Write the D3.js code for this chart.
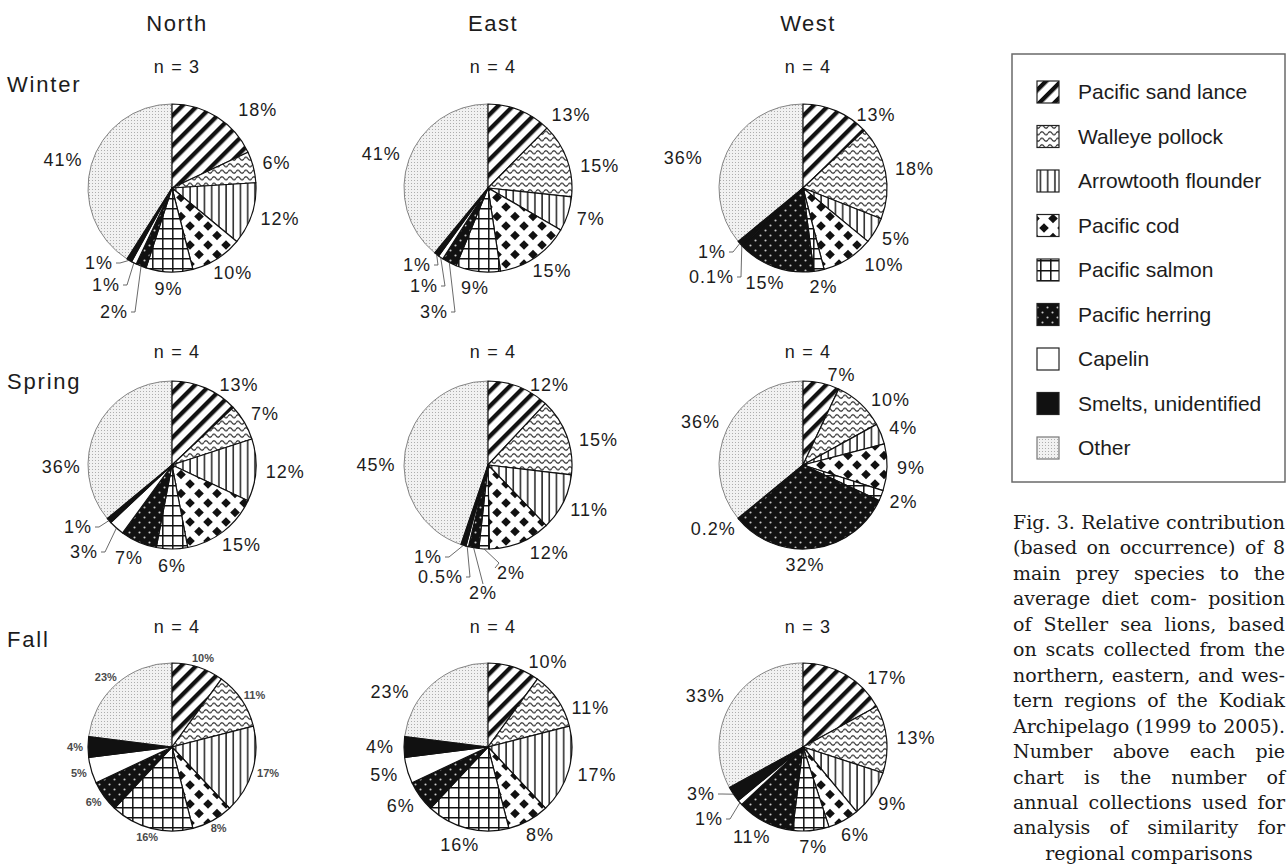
<!DOCTYPE html>
<html><head><meta charset="utf-8">
<script src="https://cdn.jsdelivr.net/npm/d3@7"></script>
<style>
body{margin:0;background:#fff}
svg{display:block}
</style></head><body>
<svg id="chart" width="1287" height="865"></svg>
<script>
// ---------------- DATA ----------------
const categories = ["Pacific sand lance","Walleye pollock","Arrowtooth flounder","Pacific cod","Pacific salmon","Pacific herring","Capelin","Smelts, unidentified","Other"];
const regions = ["North","East","West"];
const seasons = ["Winter","Spring","Fall"];
const sampleSizes = [[3,4,4],[4,4,4],[4,4,3]];
const winterNorth = [18,6,12,10,9,2,1,1,41];
const winterEast  = [13,15,7,15,9,3,1,1,41];
const winterWest  = [13,18,5,10,2,15,0.1,1,36];
const springNorth = [13,7,12,15,6,7,3,1,36];
const springEast  = [12,15,11,12,2,2,0.5,1,45];
const springWest  = [7,10,4,9,2,32,0.2,0,36];
const fallNorth   = [10,11,17,8,16,6,5,4,23];
const fallEast    = [10,11,17,8,16,6,5,4,23];
const fallWest    = [17,13,9,6,7,11,1,3,33];
const captionLines = [
  "Fig. 3. Relative contribution",
  "(based on occurrence) of 8",
  "main prey species to the",
  "average diet com- position",
  "of Steller sea lions, based",
  "on scats collected from the",
  "northern, eastern, and wes-",
  "tern regions of the Kodiak",
  "Archipelago (1999 to 2005).",
  "Number above each pie",
  "chart is the number of",
  "annual collections used for",
  "analysis of similarity for",
  "regional comparisons"
];

// ---------------- LAYOUT ----------------
const panels = [winterNorth, winterEast, winterWest, springNorth, springEast, springWest, fallNorth, fallEast, fallWest];
const colX = [172, 488, 803];
const rowY = [188, 465, 747];
const R = 84;
const SANS = "'Liberation Sans', Arial, Helvetica, sans-serif";
const SERIF = "'DejaVu Serif', serif";
const INK = "#1c1c1c";

// manual label nudges (annotation layout only)
const labelShift = [
  {0:[25,7]},
  {0:[40,20],1:[5,12]},
  {0:[28,19],3:[20,-8],8:[-17,13]},
  {0:[22,12],8:[-8,44]},
  {0:[20,13],1:[4,9],3:[18,-5],8:[0,16]},
  {0:[15,8],1:[10,8],5:[-13,0]},
  {},
  {0:[25,10],1:[9,17],8:[-23,20]},
  {0:[26,17]}
];
// labels placed with leader lines (relative to pie centre)
const leaderLabels = [
  {7:{x:-59,y:75,a:"end"},6:{x:-52,y:97,a:"end"},5:{x:-44,y:124,a:"end"}},
  {7:{x:-57,y:77,a:"end"},6:{x:-50,y:98,a:"end"},5:{x:-40,y:124,a:"end"}},
  {7:{x:-77,y:64,a:"end"},6:{x:-69,y:89,a:"end"}},
  {7:{x:-80,y:62,a:"end"},6:{x:-74,y:87,a:"end"}},
  {4:{x:9,y:108,a:"start"},5:{x:-5,y:128,a:"middle"},6:{x:-25,y:112,a:"end"},7:{x:-46,y:92,a:"end"}},
  {},
  {},
  {},
  {7:{x:-88,y:47,a:"end"},6:{x:-80,y:72,a:"end"}}
];

const svg = d3.select("#chart");
svg.append("rect").attr("width",1287).attr("height",865).attr("fill","#fff");

// ---------------- PATTERNS ----------------
const defs = svg.append("defs");
function pat(id, w, h, tr){
  const p = defs.append("pattern").attr("id",id).attr("patternUnits","userSpaceOnUse")
    .attr("width",w).attr("height",h);
  if (tr) p.attr("patternTransform",tr);
  return p;
}
let p;
p = pat("pSand",10.6,10.6,"rotate(45)");
p.append("rect").attr("width",10.6).attr("height",10.6).attr("fill","#fff");
p.append("rect").attr("width",4.3).attr("height",10.6).attr("fill","#111");

p = pat("pPollock",8,6.5);
p.append("rect").attr("width",8).attr("height",6.5).attr("fill","#fff");
p.append("path").attr("d","M0,3.25 Q2,0.2 4,3.25 T8,3.25").attr("fill","none").attr("stroke","#111").attr("stroke-width",1.05);

p = pat("pArrow",7.2,10);
p.append("rect").attr("width",7.2).attr("height",10).attr("fill","#fff");
p.append("rect").attr("x",3).attr("width",1.4).attr("height",10).attr("fill","#111");

p = pat("pCod",18,19);
p.append("rect").attr("width",18).attr("height",19).attr("fill","#fff");
[[0,0],[18,0],[0,19],[18,19],[9,9.5]].forEach(([cx,cy])=>{
  p.append("path").attr("d",`M${cx},${cy-4.8} L${cx+4.8},${cy} L${cx},${cy+4.8} L${cx-4.8},${cy} Z`).attr("fill","#111");
});

p = pat("pSalmon",10,10);
p.append("rect").attr("width",10).attr("height",10).attr("fill","#fff");
p.append("path").attr("d","M0.8,0 V10 M0,0.8 H10").attr("stroke","#111").attr("stroke-width",1.5);

p = pat("pHerring",10,10);
p.append("rect").attr("width",10).attr("height",10).attr("fill","#111");
p.append("circle").attr("cx",2.5).attr("cy",2.5).attr("r",1.05).attr("fill","#c8c8c8");
p.append("circle").attr("cx",7.5).attr("cy",7.5).attr("r",1.05).attr("fill","#c8c8c8");

p = pat("pOther",3,3);
p.append("rect").attr("width",3).attr("height",3).attr("fill","#f1f1f1");
p.append("rect").attr("x",1).attr("y",1).attr("width",1).attr("height",1).attr("fill","#adadad");

const fills = ["url(#pSand)","url(#pPollock)","url(#pArrow)","url(#pCod)","url(#pSalmon)","url(#pHerring)","#fff","#111","url(#pOther)"];

// ---------------- HEADERS ----------------
regions.forEach((r,i)=>{
  svg.append("text").attr("x",colX[i]+5).attr("y",31).attr("text-anchor","middle")
    .attr("font-family",SANS).attr("font-size",22).attr("letter-spacing",1.5).attr("fill",INK).text(r);
});
const seasonBase = [92,389,647];
seasons.forEach((s,i)=>{
  svg.append("text").attr("x",7).attr("y",seasonBase[i])
    .attr("font-family",SANS).attr("font-size",22).attr("letter-spacing",1.8).attr("fill",INK).text(s);
});
const nBase = [73,358,633];

// ---------------- PIES ----------------
const pie = d3.pie().sort(null).value(d=>d.v);
const arcGen = d3.arc().innerRadius(0).outerRadius(R);
const fmt = v => String(v) + "%";

panels.forEach((vals, pi) => {
  const row = Math.floor(pi/3), col = pi%3;
  const g = svg.append("g").attr("transform",`translate(${colX[col]},${rowY[row]})`);

  svg.append("text").attr("x",colX[col]+5).attr("y",nBase[row]).attr("text-anchor","middle")
    .attr("font-family",SANS).attr("font-size",18).attr("letter-spacing",1.2).attr("fill",INK)
    .text("n = " + sampleSizes[row][col]);

  const arcs = pie(vals.map((v,i)=>({v,i}))).filter(a=>a.data.v>0);
  const ordered = arcs.slice().sort((a,b)=> (b.data.i===8) - (a.data.i===8));
  g.selectAll("path.slice").data(ordered).join("path").attr("class","slice")
    .attr("d",arcGen).attr("fill",d=>fills[d.data.i])
    .attr("stroke",d=>d.data.i===8?"#777":"#111")
    .attr("stroke-width",d=>d.data.i===8?0.9:1.2)
    .attr("stroke-linejoin","round");

  const small = pi===6;
  const fs = small ? 11 : 18;
  const capH = small ? 8 : 13;
  const gap = small ? 5 : 10;
  arcs.forEach(a=>{
    const i = a.data.i;
    const m = (a.startAngle + a.endAngle)/2;
    const s = Math.sin(m), c = -Math.cos(m);
    const t = g.append("text").attr("font-family",SANS).attr("font-size",fs)
      .attr("letter-spacing",small?0:1).attr("fill",small?"#4a4a4a":INK)
      .attr("font-weight",small?"bold":"normal").attr("dy","0.35em").text(fmt(a.data.v));
    const ld = leaderLabels[pi][i];
    if (ld) {
      t.attr("x",ld.x).attr("y",ld.y).attr("text-anchor",ld.a);
      const ax = R*s, ay = R*c;
      let path;
      if (ld.a === "end") path = `M${ld.x+3},${ld.y} L${ld.x+7},${ld.y} L${ax},${ay}`;
      else if (ld.a === "start") path = `M${ld.x-2},${ld.y-5} L${ld.x+2},${ld.y-10} L${ax},${ay}`;
      else path = `M${ld.x},${ld.y-9} L${ax},${ay}`;
      g.append("path").attr("d",path).attr("fill","none").attr("stroke","#444").attr("stroke-width",0.8);
    } else {
      const w = t.node().getComputedTextLength();
      const sh = labelShift[pi][i] || [0,0];
      const x = (R+gap)*s + s*w/2 + sh[0];
      const y = (R+gap)*c + c*capH/2 + sh[1];
      t.attr("x",x).attr("y",y).attr("text-anchor","middle");
    }
  });
});

// ---------------- LEGEND ----------------
const lg = svg.append("g");
lg.append("rect").attr("x",1012).attr("y",54).attr("width",273).attr("height",428)
  .attr("fill","#fff").attr("stroke","#6a6a6a").attr("stroke-width",1.5);
const legY = d3.scalePoint().domain(categories).range([92,448]);
categories.forEach((cat,i)=>{
  const cy = legY(cat);
  lg.append("rect").attr("x",1037).attr("y",cy-11).attr("width",22).attr("height",22)
    .attr("fill",fills[i]).attr("stroke",i===8?"#777":"#222").attr("stroke-width",1.2);
  lg.append("text").attr("x",1078).attr("y",cy).attr("dy","0.35em")
    .attr("font-family",SANS).attr("font-size",21).attr("fill",INK).text(cat);
});

// ---------------- CAPTION ----------------
const capG = svg.append("g").attr("font-family",SERIF).attr("font-size",19).attr("fill","#1a1a1a");
const capL = 1013, capR = 1285, capTop = 529, capStep = 25.45;
captionLines.forEach((line, li)=>{
  const y = capTop + li*capStep;
  if (li === captionLines.length-1) {
    capG.append("text").attr("x",(capL+capR)/2).attr("y",y).attr("text-anchor","middle").text(line);
    return;
  }
  const words = line.split(" ");
  const nodes = words.map(w=>capG.append("text").attr("y",y).text(w));
  const widths = nodes.map(n=>n.node().getComputedTextLength());
  const total = d3.sum(widths);
  const g = words.length>1 ? (capR-capL-total)/(words.length-1) : 0;
  let x = capL;
  nodes.forEach((n,k)=>{ n.attr("x",x); x += widths[k] + g; });
});
</script>
</body></html>
